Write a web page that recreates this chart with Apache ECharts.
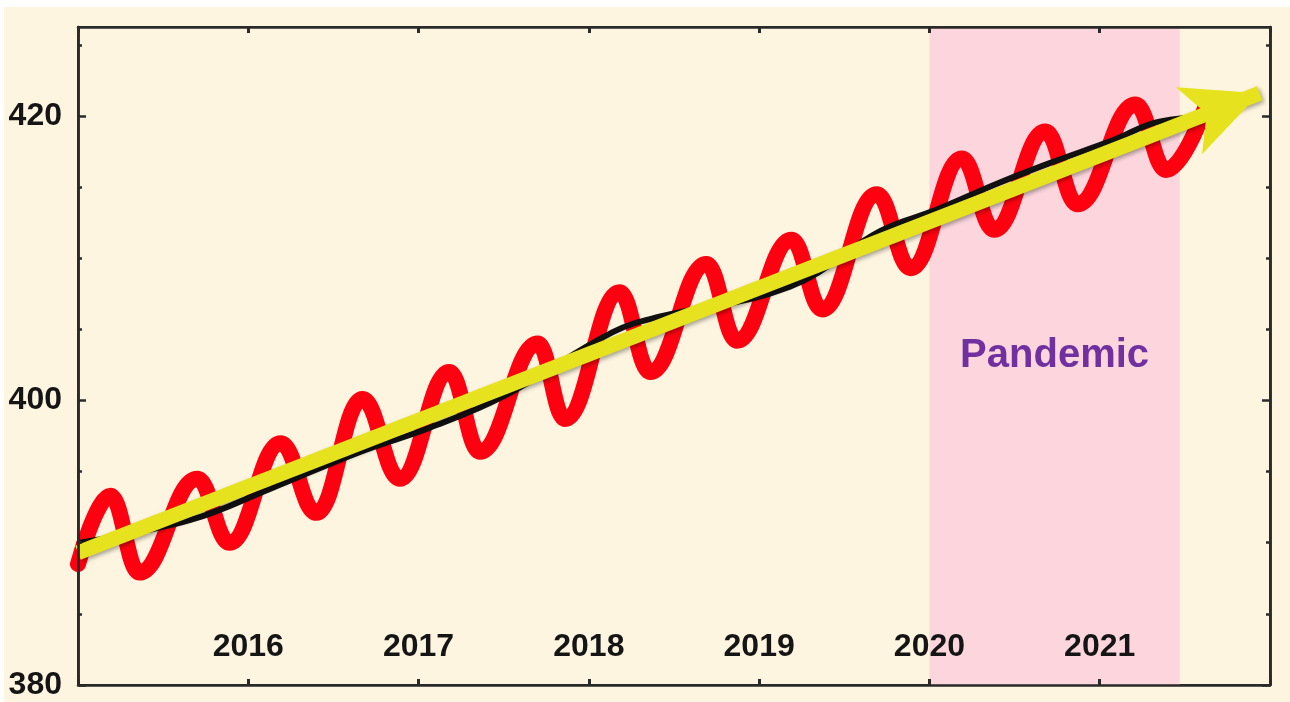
<!DOCTYPE html>
<html><head><meta charset="utf-8">
<script src="https://cdn.jsdelivr.net/npm/echarts@6/dist/echarts.min.js"></script>
<style>html,body{margin:0;padding:0;background:#fff;overflow:hidden}#c{position:absolute;left:4px;top:7px;width:1286px;height:695px}</style>
</head><body><div id="c"></div>
<script>
// Seasonal CO2 curve (decimal year, ppm)
const co2Years = [2015.00,2015.19,2015.36,2015.70,2015.89,2016.19,2016.40,2016.67,2016.89,2017.18,2017.36,2017.70,2017.86,2018.18,2018.36,2018.69,2018.87,2019.19,2019.37,2019.69,2019.89,2020.19,2020.38,2020.68,2020.87,2021.21,2021.39,2021.63];
const co2Ppm   = [388.5,393.3,387.9,394.5,390.0,397.0,392.1,400.1,394.5,402.0,396.4,404.0,398.7,407.6,402.0,409.6,404.2,411.3,406.4,414.5,409.3,417.0,412.0,418.9,413.8,420.8,416.2,420.9];
// Deseasonalised trend (black)
const trendYears = [2015.01,2015.66,2016.13,2016.66,2017.07,2017.50,2018.14,2018.42,2019.18,2019.71,2020.04,2020.41,2020.71,2021.08,2021.35,2021.66];
const trendPpm   = [390.0,391.6,393.8,396.4,398.1,400.3,404.8,405.9,408.0,411.9,413.4,415.3,416.7,418.3,419.6,419.9];
// Yellow arrow endpoints (year, ppm): tail and tip
const arrowStart = [2015.0, 389.3];
const arrowEnd = [2021.94, 421.6];
// Pandemic shading
const pandemicSpan = [2020.0, 2021.47];
const pandemicLabel = 'Pandemic';
// Axis ticks
const yearLabels = [2016, 2017, 2018, 2019, 2020, 2021];
const ppmMajor = [380, 400, 420];
const ppmMinor = [385, 390, 395, 405, 410, 415, 425];

const FONT = 'Liberation Sans, Arial, sans-serif';
const AX = '#2a2a2a';
const zip = (xs, ys) => xs.map((x, i) => [x, ys[i]]);

const yBase = {type: 'value', min: 380, max: 426.25, splitLine: {show: false}, z: 10};
function yAx(pos, vals, len, labels) {
  return Object.assign({}, yBase, {
    position: pos,
    axisLine: {show: true, lineStyle: {color: AX, width: 2.5}},
    axisTick: {show: true, inside: true, length: len, customValues: vals, lineStyle: {color: AX, width: 2.5}},
    axisLabel: labels ? {show: true, customValues: vals, color: '#151515', fontFamily: FONT, fontWeight: 'bold', fontSize: 32, margin: 16} : {show: false}
  });
}
function xAx(pos, labels) {
  return {
    type: 'value', min: 2015, max: 2022, interval: 1, position: pos, z: 10,
    splitLine: {show: false},
    axisLine: {show: true, lineStyle: {color: AX, width: 2.5}},
    axisTick: {show: true, inside: true, length: 6, lineStyle: {color: AX, width: 3}},
    axisLabel: labels ? {show: true, inside: true, customValues: yearLabels, formatter: v => String(v), color: '#151515', fontFamily: FONT, fontWeight: 'bold', fontSize: 32, margin: 22} : {show: false}
  };
}

const chart = echarts.init(document.getElementById('c'));
chart.setOption({
  backgroundColor: '#fdf5e0',
  animation: false,
  grid: {left: 74, top: 20, width: 1192, height: 658, show: true, backgroundColor: '#fdf5e0', borderColor: AX, borderWidth: 2},
  xAxis: [xAx('bottom', true), xAx('top', false)],
  yAxis: [yAx('left', ppmMajor, 8, true), yAx('left', ppmMinor, 4, false), yAx('right', ppmMajor, 8, false), yAx('right', ppmMinor, 4, false)],
  series: [
    {
      type: 'line', name: 'CO2', xAxisIndex: 0, yAxisIndex: 0,
      data: zip(co2Years, co2Ppm), smooth: 0.42, smoothMonotone: 'x', symbol: 'none', z: 2,
      lineStyle: {color: '#ff0010', width: 16, cap: 'round', join: 'round'},
      markArea: {
        silent: true,
        itemStyle: {color: '#fcd6dc'},
        label: {show: true, position: 'inside', color: '#7030a0', fontFamily: FONT, fontWeight: 'bold', fontSize: 40},
        data: [[{xAxis: pandemicSpan[0], name: pandemicLabel}, {xAxis: pandemicSpan[1]}]]
      }
    },
    {
      type: 'line', name: 'trend', xAxisIndex: 0, yAxisIndex: 0,
      data: zip(trendYears, trendPpm), smooth: 0.4, symbol: 'none', z: 3,
      lineStyle: {color: '#111', width: 6, cap: 'round'},
      markLine: {
        silent: true, animation: false,
        symbol: ['none', 'arrow'], symbolSize: [54, 76],
        label: {show: false},
        lineStyle: {color: '#e6e21e', width: 15, type: 'solid', cap: 'butt', shadowBlur: 4, shadowColor: 'rgba(0,0,0,0.35)', shadowOffsetX: 2, shadowOffsetY: 2},
        data: [[{coord: arrowStart}, {coord: arrowEnd}]]
      }
    }
  ]
});
</script></body></html>
